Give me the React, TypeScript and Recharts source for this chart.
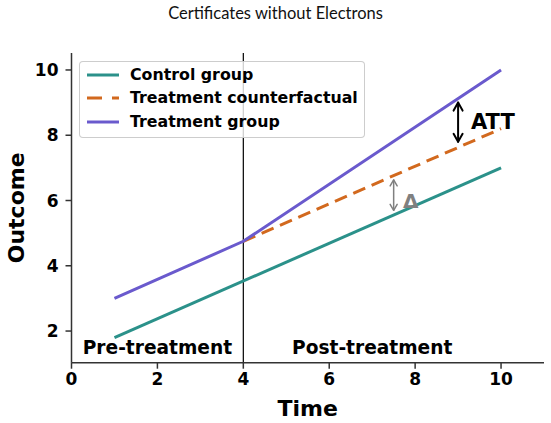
import React from "react";
import {
  LineChart,
  Line,
  XAxis,
  YAxis,
  ReferenceLine,
  ReferenceDot,
} from "recharts";

// series
const controlTime = [1, 10];
const controlValue = [1.8, 7.0];
const treatTime = [1, 4, 10];
const treatValue = [3.0, 4.75, 10.0];
const cfTime = [4, 10];
const cfValue = [4.75, 8.2];

const xTicks = [0, 2, 4, 6, 8, 10];
const yTicks = [2, 4, 6, 8, 10];
const seriesNames = ["Control group", "Treatment counterfactual", "Treatment group"];

// annotations: [x, yFrom, yTo]
const attArrow = [9, 7.8, 9.0];
const deltaArrow = [7.5, 5.7, 6.63];
const attLabel = { x: 9.3, y: 8.42, text: "ATT" };
const deltaLabel = { x: 7.72, y: 6.0, text: "Δ" };
const periodLabels = [
  { x: 2, y: 1.5, text: "Pre-treatment" },
  { x: 7, y: 1.5, text: "Post-treatment" },
];

const TEAL = "#2b918a";
const ORANGE = "#d2691e";
const PURPLE = "#6a5acd";
const FONT = "'DejaVu Sans', sans-serif";

const W = 551;
const H = 423;

const toRows = (ts: number[], vs: number[]) => ts.map((t, i) => ({ t, v: vs[i] }));
const controlData = toRows(controlTime, controlValue);
const treatData = toRows(treatTime, treatValue);
const cfData = toRows(cfTime, cfValue);

function makeArrow(color: string, width: number, head: number, half: number) {
  return (props: any) => {
    const { x1, y1, x2, y2 } = props;
    const top = Math.min(y1, y2);
    const bot = Math.max(y1, y2);
    return (
      <g stroke={color} strokeWidth={width} fill="none" strokeLinecap="round" strokeLinejoin="round">
        <line x1={x1} y1={top} x2={x2} y2={bot} />
        <polyline points={`${x1 - half},${top + head} ${x1},${top} ${x1 + half},${top + head}`} />
        <polyline points={`${x2 - half},${bot - head} ${x2},${bot} ${x2 + half},${bot - head}`} />
      </g>
    );
  };
}

function makeText(text: string, size: number, color: string, anchor: "start" | "middle") {
  return (props: any) => (
    <text
      x={props.cx}
      y={props.cy}
      textAnchor={anchor}
      dominantBaseline="central"
      fontFamily={FONT}
      fontWeight="bold"
      fontSize={size}
      fill={color}
    >
      {text}
    </text>
  );
}

function LegendBox() {
  const colors = [TEAL, ORANGE, PURPLE];
  const dashes = [undefined, "15 10", undefined];
  return (
    <div
      style={{
        position: "absolute",
        left: 79,
        top: 61,
        width: 286,
        height: 77,
        boxSizing: "border-box",
        border: "1px solid rgba(200,200,200,0.9)",
        borderRadius: 4,
        background: "rgba(255,255,255,0.8)",
        fontFamily: FONT,
        fontWeight: "bold",
        fontSize: 15.8,
      }}
    >
      {seriesNames.map((name, i) => (
        <div
          key={name}
          style={{ position: "absolute", left: 0, top: 13 + 23.35 * i - 10, height: 20, width: "100%" }}
        >
          <svg width={40} height={20} style={{ position: "absolute", left: 6, top: 0 }}>
            <line x1={1} y1={10} x2={33} y2={10} stroke={colors[i]} strokeWidth={3} strokeDasharray={dashes[i]} />
          </svg>
          <span style={{ position: "absolute", left: 50, top: 0, lineHeight: "20px", whiteSpace: "nowrap" }}>
            {name}
          </span>
        </div>
      ))}
    </div>
  );
}

export default function App() {
  const tickStyle = { fill: "#000", fontFamily: FONT, fontWeight: "bold", fontSize: 17 } as const;
  return (
    <div style={{ position: "absolute", left: 0, top: 0, width: W, height: H, background: "#fff" }}>
      <div
        style={{
          position: "absolute",
          left: 0,
          top: 3,
          width: W,
          textAlign: "center",
          fontFamily: "Lato, 'Open Sans', sans-serif",
          fontSize: 16.5,
          color: "#111",
        }}
      >
        Certificates without Electrons
      </div>
      <LineChart width={W} height={H} margin={{ top: 53, right: 7, bottom: 0, left: 0 }}>
        <XAxis
          type="number"
          dataKey="t"
          domain={[0, 11]}
          ticks={xTicks}
          allowDataOverflow
          height={60.3}
          tick={tickStyle}
          tickSize={6}
          tickMargin={4}
          stroke="#333"
          strokeWidth={1.5}
          label={(p: any) => {
            const vb = p.viewBox;
            return (
              <text
                x={vb.x + vb.width / 2}
                y={408}
                textAnchor="middle"
                dominantBaseline="central"
                fontFamily={FONT}
                fontWeight="bold"
                fontSize={22}
                fill="#000"
              >
                Time
              </text>
            );
          }}
        />
        <YAxis
          type="number"
          domain={[1.03, 10.52]}
          ticks={yTicks}
          allowDataOverflow
          width={71.5}
          tick={tickStyle}
          tickSize={6}
          tickMargin={7}
          stroke="#333"
          strokeWidth={1.5}
          label={(p: any) => {
            const vb = p.viewBox;
            const cx = 17;
            const cy = vb.y + vb.height / 2;
            return (
              <text
                x={cx}
                y={cy}
                transform={`rotate(-90 ${cx} ${cy})`}
                textAnchor="middle"
                dominantBaseline="central"
                fontFamily={FONT}
                fontWeight="bold"
                fontSize={22}
                fill="#000"
              >
                Outcome
              </text>
            );
          }}
        />
        <ReferenceLine x={4} stroke="#000" strokeWidth={1.2} />
        <Line data={controlData} dataKey="v" stroke={TEAL} strokeWidth={3} dot={false} isAnimationActive={false} />
        <Line
          data={cfData}
          dataKey="v"
          stroke={ORANGE}
          strokeWidth={3}
          strokeDasharray="13 7"
          dot={false}
          isAnimationActive={false}
        />
        <Line data={treatData} dataKey="v" stroke={PURPLE} strokeWidth={3} dot={false} isAnimationActive={false} />
        <ReferenceLine
          segment={[
            { x: attArrow[0], y: attArrow[1] },
            { x: attArrow[0], y: attArrow[2] },
          ]}
          shape={makeArrow("#000", 2, 8, 4.5)}
        />
        <ReferenceLine
          segment={[
            { x: deltaArrow[0], y: deltaArrow[1] },
            { x: deltaArrow[0], y: deltaArrow[2] },
          ]}
          shape={makeArrow("#808080", 1.5, 6, 3.5)}
        />
        <ReferenceDot x={attLabel.x} y={attLabel.y} r={0} shape={makeText(attLabel.text, 21, "#000", "start")} />
        <ReferenceDot
          x={deltaLabel.x}
          y={deltaLabel.y}
          r={0}
          shape={makeText(deltaLabel.text, 20, "#808080", "start")}
        />
        {periodLabels.map((l) => (
          <ReferenceDot key={l.text} x={l.x} y={l.y} r={0} shape={makeText(l.text, 18.6, "#000", "middle")} />
        ))}
      </LineChart>
      <LegendBox />
    </div>
  );
}
